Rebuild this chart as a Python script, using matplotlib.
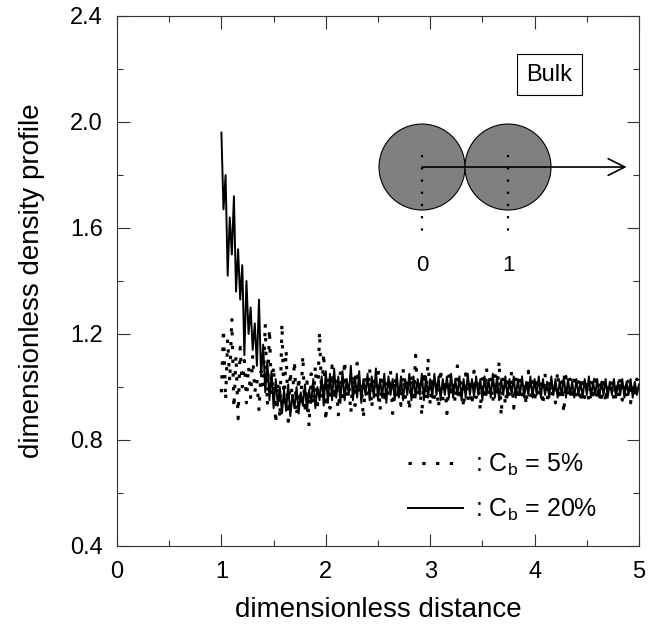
import numpy as np
import matplotlib
matplotlib.use("Agg")
import matplotlib.pyplot as plt
from matplotlib.patches import Circle
from matplotlib.ticker import MultipleLocator

plt.rcParams['font.family'] = ['Liberation Sans', 'DejaVu Sans']

# density profiles, x = 1.00 ... 5.00 step 0.02
cb5 = [
    0.98, 1.22, 0.95, 1.18, 1.02, 1.26, 0.92, 1.12, 0.88, 1.15,
    1.00, 1.10, 0.94, 1.08, 0.96, 1.12, 0.98, 1.03, 0.91, 1.06,
    1.00, 1.24, 0.93, 1.22, 0.97, 1.08, 0.86, 1.02, 0.88, 1.24,
    0.92, 1.14, 0.87, 1.06, 0.95, 1.10, 0.89, 1.04, 0.93, 1.12,
    0.90, 1.02, 0.85, 1.05, 0.93, 1.08, 0.91, 1.21, 0.96, 1.13,
    0.87, 1.04, 0.92, 1.08, 0.95, 1.03, 0.89, 1.06, 0.94, 1.10,
    0.96, 1.02, 0.90, 1.05, 0.93, 1.09, 0.97, 1.01, 0.88, 1.04,
    0.95, 1.07, 0.92, 1.03, 0.96, 1.08, 0.91, 1.05, 0.94, 1.02,
    0.97, 1.06, 0.90, 1.04, 0.95, 1.01, 0.93, 1.07, 0.96, 1.03,
    0.91, 1.05, 0.94, 1.12, 0.97, 1.02, 0.89, 1.06, 0.95, 1.11,
    0.93, 1.04, 0.96, 1.01, 0.92, 1.07, 0.95, 1.03, 0.90, 1.05,
    0.96, 1.02, 0.94, 1.08, 0.97, 1.03, 0.92, 1.05, 0.95, 1.01,
    0.93, 1.06, 0.96, 1.02, 0.91, 1.04, 0.95, 1.07, 0.97, 1.03,
    0.94, 1.05, 0.96, 1.10, 0.89, 1.04, 0.93, 1.02, 0.96, 1.06,
    0.92, 1.03, 0.95, 1.05, 0.97, 1.01, 0.93, 1.06, 0.96, 1.02,
    0.94, 1.04, 0.97, 1.02, 0.93, 1.05, 0.95, 1.03, 0.96, 1.01,
    0.94, 1.06, 0.97, 1.02, 0.90, 1.04, 0.96, 1.03, 0.95, 1.05,
    0.97, 1.02, 0.94, 1.04, 0.96, 1.01, 0.95, 1.03, 0.97, 1.05,
    0.95, 1.02, 0.96, 1.04, 0.94, 1.01, 0.97, 1.03, 0.95, 1.02,
    0.96, 1.04, 0.95, 1.01, 0.97, 1.03, 0.94, 1.02, 0.96, 1.03,
    1.00,
]
cb20 = [
    1.96, 1.67, 1.80, 1.42, 1.64, 1.50, 1.72, 1.36, 1.52, 1.33,
    1.46, 1.12, 1.40, 1.20, 1.30, 1.14, 1.24, 1.08, 1.33, 1.04,
    1.16, 0.98, 1.10, 0.95, 1.06, 0.92, 1.03, 0.93, 1.00, 0.90,
    0.99, 0.91, 1.01, 0.89, 0.97, 0.92, 1.00, 0.90, 0.98, 0.93,
    1.01, 0.91, 0.99, 0.94, 1.03, 0.92, 1.00, 0.95, 1.04, 0.93,
    1.06, 0.94, 1.05, 0.95, 1.07, 0.96, 1.04, 0.94, 1.06, 0.95,
    1.03, 0.97, 1.08, 0.95, 1.04, 0.96, 1.06, 0.94, 1.03, 0.97,
    1.05, 0.95, 1.04, 0.96, 1.07, 0.95, 1.03, 0.96, 1.05, 0.94,
    1.04, 0.97, 1.03, 0.95, 1.05, 0.96, 1.04, 0.95, 1.03, 0.97,
    1.05, 0.95, 1.04, 0.96, 1.03, 0.97, 1.05, 0.95, 1.04, 0.96,
    1.03, 0.96, 1.05, 0.97, 1.04, 0.95, 1.03, 0.97, 1.04, 0.96,
    1.05, 0.96, 1.03, 0.97, 1.04, 0.95, 1.03, 0.96, 1.05, 0.97,
    1.03, 0.96, 1.04, 0.97, 1.03, 0.95, 1.04, 0.97, 1.03, 0.96,
    1.05, 0.96, 1.04, 0.95, 1.03, 0.97, 1.04, 0.96, 1.03, 0.97,
    1.04, 0.96, 1.03, 0.97, 1.04, 0.96, 1.02, 0.97, 1.04, 0.96,
    1.03, 0.97, 1.04, 0.96, 1.03, 0.97, 1.02, 0.96, 1.04, 0.97,
    1.03, 0.96, 1.02, 0.97, 1.04, 0.96, 1.03, 0.97, 1.02, 0.96,
    1.03, 0.97, 1.02, 0.96, 1.03, 0.97, 1.04, 0.96, 1.02, 0.97,
    1.03, 0.96, 1.02, 0.97, 1.03, 0.96, 1.02, 0.97, 1.03, 0.96,
    1.02, 0.97, 1.03, 0.96, 1.02, 0.97, 1.03, 0.96, 1.02, 0.97,
    1.01,
]
x5 = np.linspace(1.0, 5.0, len(cb5))
x20 = np.linspace(1.0, 5.0, len(cb20))

labels = [': $\\mathregular{C_b}$ = 5%', ': $\\mathregular{C_b}$ = 20%']
sphere_pos = [0, 1]

fig = plt.figure(figsize=(6.52, 6.33), dpi=100)
ax = fig.add_axes([117/652, 1-546/633, 522/652, 530/633])

ax.plot(x5, cb5, color='black', lw=2.2, linestyle=(0, (1.1, 3.4)), label=labels[0])
ax.plot(x20, cb20, color='black', lw=1.4, label=labels[1])

ax.set_xlim(0, 5)
ax.set_ylim(0.4, 2.4)
ax.xaxis.set_major_locator(MultipleLocator(1))
ax.xaxis.set_minor_locator(MultipleLocator(0.5))
ax.yaxis.set_major_locator(MultipleLocator(0.4))
ax.yaxis.set_minor_locator(MultipleLocator(0.2))
ax.yaxis.set_major_formatter(matplotlib.ticker.FormatStrFormatter('%.1f'))
ax.tick_params(which='both', direction='in', top=True, right=True,
               color='#333333', width=0.8, labelsize=17)
ax.tick_params(which='major', length=9)
ax.tick_params(which='minor', length=4.5)
ax.tick_params(axis='x', pad=11)
ax.tick_params(axis='y', pad=10)
for s in ax.spines.values():
    s.set_color('#333333')
    s.set_linewidth(0.8)

ax.set_xlabel('dimensionless distance', fontsize=20, labelpad=10)
ax.set_ylabel('dimensionless density profile', fontsize=20, labelpad=18)

ax.text(0.828, 0.889, 'Bulk', transform=ax.transAxes, fontsize=17,
        ha='center', va='center',
        bbox=dict(boxstyle='square,pad=0.4', fc='white', ec='black', lw=0.8))

ax.legend(loc='upper left', bbox_to_anchor=(0.557, 0.178), frameon=False,
          fontsize=18, handlelength=2.2, handletextpad=0.5, labelspacing=0.75,
          borderpad=0, borderaxespad=0)

# inset sketch: two touching spheres
ins = fig.add_axes([370/652, 1-280/633, 270/652, 160/633])
ins.set_xlim(-0.605, 2.535)
ins.set_ylim(-1.314, 0.547)
ins.axis('off')
for p in sphere_pos:
    ins.add_patch(Circle((p, 0), 0.5, fc='#808080', ec='black', lw=0.8))
    ins.plot([p, p], [0.14, -0.85], color='black', lw=1.6, linestyle=(0, (1, 4.5)))
    ins.text(p, -1.14, str(p), fontsize=16, ha='center', va='center')
ins.annotate('', xy=(2.38, 0), xytext=(0, 0),
             arrowprops=dict(arrowstyle='->', lw=1.2, color='black',
                             mutation_scale=30, shrinkA=0, shrinkB=0))

fig.savefig('out.png', dpi=100)
